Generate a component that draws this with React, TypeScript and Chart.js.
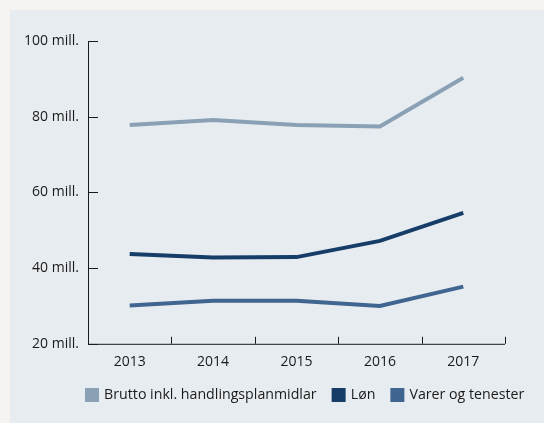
import React, { useEffect, useRef } from "react";
import { Chart, registerables } from "chart.js";

Chart.register(...registerables);

const years = ["2013", "2014", "2015", "2016", "2017"];
const brutto = [77.8, 79.1, 77.8, 77.4, 90.3];
const lon = [43.7, 42.8, 42.9, 47.2, 54.6];
const varer = [30.1, 31.4, 31.4, 30.0, 35.1];
const yTicks = [20, 40, 60, 80, 100];

const FONT = "'Open Sans', sans-serif";
const TEXT = "#1a1a1a";

const innerTicks = {
  id: "innerTicks",
  afterLayout(chart: any) {
    if (chart.legend) {
      chart.legend.left = 70;
      chart.legend.right = 700;
    }
  },
  afterDraw(chart: any) {
    const { ctx, chartArea, scales } = chart;
    const x = scales.x;
    const y = scales.y;
    ctx.save();
    ctx.strokeStyle = "#1a1a1a";
    ctx.lineWidth = 1;
    ctx.beginPath();
    ctx.moveTo(chartArea.left + 0.5, chartArea.top);
    ctx.lineTo(chartArea.left + 0.5, chartArea.bottom + 0.5);
    ctx.lineTo(chartArea.right, chartArea.bottom + 0.5);
    yTicks.forEach((v) => {
      const py = Math.round(y.getPixelForValue(v)) + 0.5;
      ctx.moveTo(chartArea.left, py);
      ctx.lineTo(chartArea.left + 10, py);
    });
    const step = x.width / years.length;
    for (let i = 0; i <= years.length; i++) {
      const px = Math.round(x.left + i * step) + 0.5;
      ctx.moveTo(px, chartArea.bottom);
      ctx.lineTo(px, chartArea.bottom - 7);
    }
    ctx.stroke();
    ctx.restore();
  },
};

export default function App() {
  const ref = useRef<HTMLCanvasElement>(null);
  useEffect(() => {
    document.body.style.margin = "0";
    const chart = new Chart(ref.current!, {
      type: "line",
      data: {
        labels: years,
        datasets: [
          { label: "Brutto inkl. handlingsplanmidlar", data: brutto, borderColor: "#8aa0b4", backgroundColor: "#8aa0b4" },
          { label: "Løn", data: lon, borderColor: "#163d68", backgroundColor: "#163d68" },
          { label: "Varer og tenester", data: varer, borderColor: "#3f6590", backgroundColor: "#3f6590" },
        ],
      },
      options: {
        animation: false,
        responsive: false,
        devicePixelRatio: 1,
        layout: { padding: { left: 0, right: 0, top: 41, bottom: 11 } },
        elements: {
          line: { borderWidth: 4, tension: 0, borderJoinStyle: "miter" },
          point: { radius: 0 },
        },
        plugins: {
          tooltip: { enabled: false },
          legend: {
            position: "bottom",
            align: "start",
            labels: {
              boxWidth: 10,
              boxHeight: 10,
              padding: 17,
              color: TEXT,
              font: { family: FONT, size: 14.2 },
            },
          },
        },
        scales: {
          x: {
            offset: true,
            grid: { display: false, drawTicks: false },
            border: { display: false },
            ticks: { color: TEXT, font: { family: FONT, size: 14 }, padding: 10 },
            afterFit(s: any) { s.height = 27; },
          },
          y: {
            min: 20,
            max: 100,
            grid: { display: false, drawTicks: false },
            border: { display: false },
            ticks: {
              stepSize: 20,
              color: TEXT,
              font: { family: FONT, size: 14 },
              padding: 9,
              callback: (v: any) => v + " mill.",
            },
            afterFit(s: any) { s.width = 88; },
          },
          y2: {
            position: "right",
            display: true,
            grid: { display: false, drawTicks: false },
            border: { display: false },
            ticks: { display: false },
            afterFit(s: any) { s.width = 39; },
          },
        },
      },
      plugins: [innerTicks],
    });
    return () => chart.destroy();
  }, []);
  return (
    <div style={{ position: "fixed", left: 0, top: 0, width: 544, height: 423, background: "#f5f4f0" }}>
      <div style={{ position: "absolute", left: 10, top: 10, width: 534, height: 413, background: "#e7ecf0" }} />
      <canvas ref={ref} width={544} height={423} style={{ position: "absolute", left: 0, top: 0, width: 544, height: 423 }} />
    </div>
  );
}
